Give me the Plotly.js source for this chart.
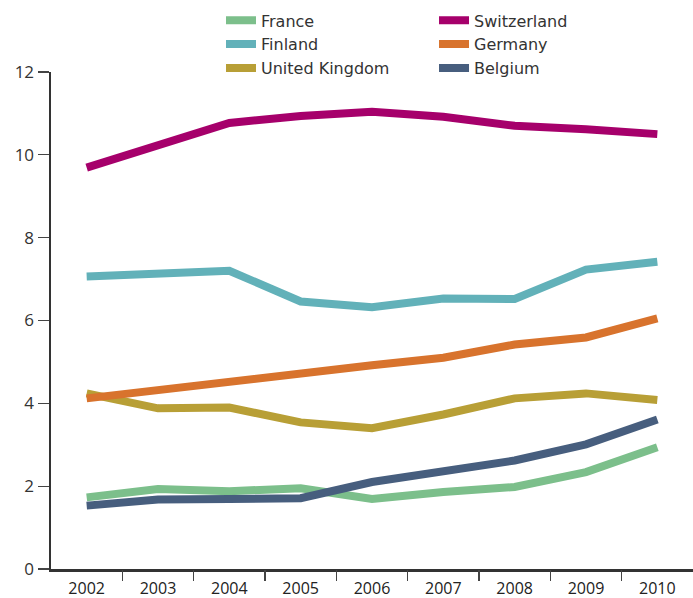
<!DOCTYPE html>
<html>
<head>
<meta charset="utf-8">
<script src="https://cdn.plot.ly/plotly-3.0.1.min.js"></script>
<style>html,body{margin:0;padding:0;background:#fff}#chart{width:693px;height:598px}</style>
</head>
<body>
<div id="chart"></div>
<script>
const years = [2002, 2003, 2004, 2005, 2006, 2007, 2008, 2009, 2010];
const france      = [1.73, 1.93, 1.88, 1.95, 1.69, 1.86, 1.98, 2.34, 2.94];
const switzerland = [9.69, 10.22, 10.77, 10.94, 11.04, 10.92, 10.70, 10.62, 10.50];
const finland     = [7.06, 7.13, 7.20, 6.46, 6.32, 6.53, 6.52, 7.23, 7.42];
const germany     = [4.12, 4.33, 4.53, 4.72, 4.92, 5.10, 5.42, 5.59, 6.05];
const uk          = [4.24, 3.88, 3.90, 3.54, 3.40, 3.73, 4.12, 4.24, 4.08];
const belgium     = [1.53, 1.68, 1.69, 1.71, 2.10, 2.38, 2.62, 3.01, 3.61];
const tickLabels = years.map(String);
const boundaries = years.slice(0, -1).map(y => y + 0.5);

const series = [
  {name: 'France', y: france, color: '#7cbf8b', legend: 'legend'},
  {name: 'Finland', y: finland, color: '#62b1b9', legend: 'legend'},
  {name: 'United Kingdom', y: uk, color: '#b89f36', legend: 'legend'},
  {name: 'Switzerland', y: switzerland, color: '#a6006b', legend: 'legend2'},
  {name: 'Germany', y: germany, color: '#d8732d', legend: 'legend2'},
  {name: 'Belgium', y: belgium, color: '#475e7e', legend: 'legend2'}
];

const traces = series.map(s => ({
  x: years, y: s.y, name: s.name, type: 'scatter', mode: 'lines',
  line: {color: s.color, width: 8}, cliponaxis: false, legend: s.legend
}));

const fam = '"Open Sans", Lato, sans-serif';
const legFam = '"DejaVu Sans", "Open Sans", sans-serif';
const legBase = {
  orientation: 'v', xanchor: 'left', y: 1.138, yanchor: 'top',
  font: {family: legFam, size: 16, color: '#333'},
  itemwidth: 30, bgcolor: 'rgba(0,0,0,0)', borderwidth: 0, traceorder: 'normal'
};

const layout = {
  width: 693, height: 598,
  margin: {l: 51, r: 0, t: 72, b: 29, autoexpand: false},
  paper_bgcolor: '#fff', plot_bgcolor: '#fff',
  font: {family: fam, size: 16, color: '#333'},
  showlegend: true,
  legend: Object.assign({}, legBase, {x: 0.2648}),
  legend2: Object.assign({}, legBase, {x: 0.5966}),
  xaxis: {
    range: [2001.5, 2010.5], tickvals: years, ticktext: tickLabels,
    ticks: '', showgrid: false, zeroline: false,
    showline: true, linecolor: '#333', linewidth: 2.5,
    tickfont: {family: fam, size: 16, color: '#222'},
    ticklabelstandoff: 3
  },
  xaxis2: {
    overlaying: 'x', anchor: 'y', side: 'bottom',
    range: [2001.5, 2010.5], tickvals: boundaries,
    showticklabels: false, ticks: 'outside', ticklen: 11, tickwidth: 1.2, tickcolor: '#444',
    showgrid: false, zeroline: false, showline: false
  },
  yaxis: {
    range: [0, 12], tickvals: [0, 2, 4, 6, 8, 10, 12],
    ticks: 'outside', ticklen: 11, tickwidth: 1.2, tickcolor: '#444',
    showgrid: false, zeroline: false,
    showline: true, linecolor: '#333', linewidth: 2.5,
    tickfont: {family: fam, size: 17, color: '#333'},
    ticklabelstandoff: 0
  }
};

traces.push({x: [years[0]], y: [null], xaxis: 'x2', yaxis: 'y', showlegend: false, hoverinfo: 'skip', mode: 'lines'});

Plotly.newPlot('chart', traces, layout, {displayModeBar: false, staticPlot: true});
</script>
</body>
</html>
